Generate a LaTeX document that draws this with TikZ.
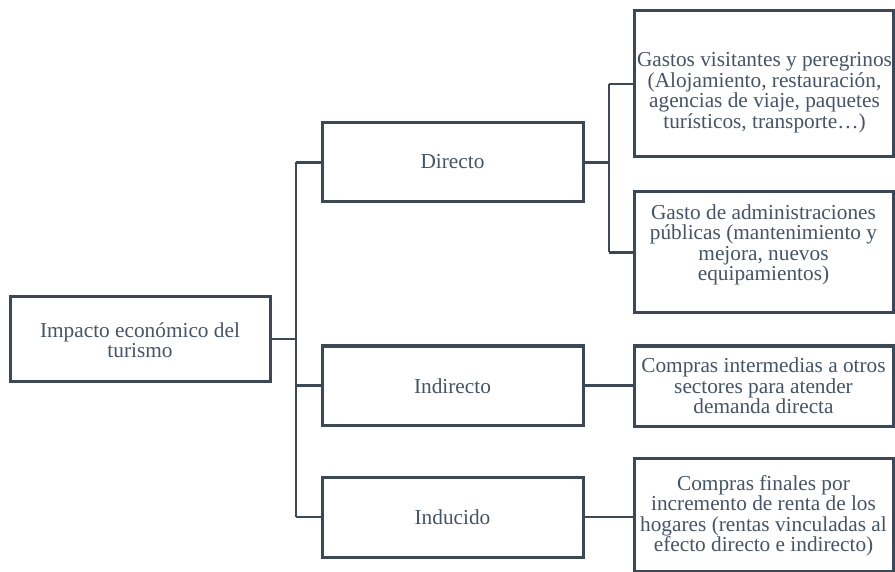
\documentclass[tikz,border=0pt]{standalone}
\usepackage{fontspec}
\setmainfont{Liberation Serif}
\definecolor{ink}{HTML}{44546A}
\definecolor{edge}{HTML}{3B4859}
\begin{document}
\begin{tikzpicture}[x=1pt,y=-1pt,
  box/.style={draw=edge,line width=3pt,fill=white,inner sep=0pt,anchor=center},
  txt/.style={text=ink,align=center,inner sep=0pt,font=\fontsize{21.3}{20.5}\selectfont},
  link/.style={draw=edge,line width=2.2pt}]
\useasboundingbox (0,0) rectangle (895,572);
% boxes
\node[box,minimum width=260pt,minimum height=84pt] (root) at (140,339) {};
\node[box,minimum width=261pt,minimum height=79pt] (dir) at (452.5,162.5) {};
\node[box,minimum width=261pt,minimum height=79pt] (ind) at (452.5,385.5) {};
\node[box,minimum width=261pt,minimum height=80pt] (indu) at (452.5,517) {};
\node[box,minimum width=259pt,minimum height=146pt] (gas) at (763.5,84) {};
\node[box,minimum width=259pt,minimum height=121pt] (adm) at (763.5,252.5) {};
\node[box,minimum width=259pt,minimum height=80pt] (inter) at (763.5,386) {};
\node[box,minimum width=259pt,minimum height=113pt] (fin) at (763.5,514.5) {};
% texts
\node[txt] (troot) at (140,340) {Impacto económico del\\turismo};
\node[txt] (tdir) at (452.5,162) {Directo};
\node[txt] (tind) at (452.5,386) {Indirecto};
\node[txt] (tindu) at (452.5,517) {Inducido};
\node[txt] (tgas) at (764.5,92.5) {Gastos visitantes y peregrinos\\(Alojamiento, restauración,\\agencias de viaje, paquetes\\turísticos, transporte…)};
\node[txt] (tadm) at (763.5,245) {Gasto de administraciones\\públicas (mantenimiento y\\mejora, nuevos\\equipamientos)};
\node[txt] (tinter) at (763.5,386) {Compras intermedias a otros\\sectores para atender\\demanda directa};
\node[txt] (tfin) at (763.5,516) {Compras finales por\\incremento de renta de los\\hogares (rentas vinculadas al\\efecto directo e indirecto)};
% connectors
\coordinate (sp1) at (296,0);
\coordinate (sp2) at (609,0);
\draw[link] (root.east) -- (root.east -| sp1);
\draw[link] (sp1 |- dir.west) -- (sp1 |- indu.west);
\draw[link] (sp1 |- dir.west) -- (dir.west);
\draw[link] (sp1 |- ind.west) -- (ind.west);
\draw[link] (sp1 |- indu.west) -- (indu.west);
\draw[link] (dir.east) -- (dir.east -| sp2);
\draw[link] (sp2 |- gas.west) -- (sp2 |- adm.west);
\draw[link] (sp2 |- gas.west) -- (gas.west);
\draw[link] (sp2 |- adm.west) -- (adm.west);
\draw[link] (ind.east) -- (ind.east -| inter.west) -- (inter.west);
\draw[link] (indu.east) -- (indu.east -| fin.west);
\end{tikzpicture}
\end{document}
